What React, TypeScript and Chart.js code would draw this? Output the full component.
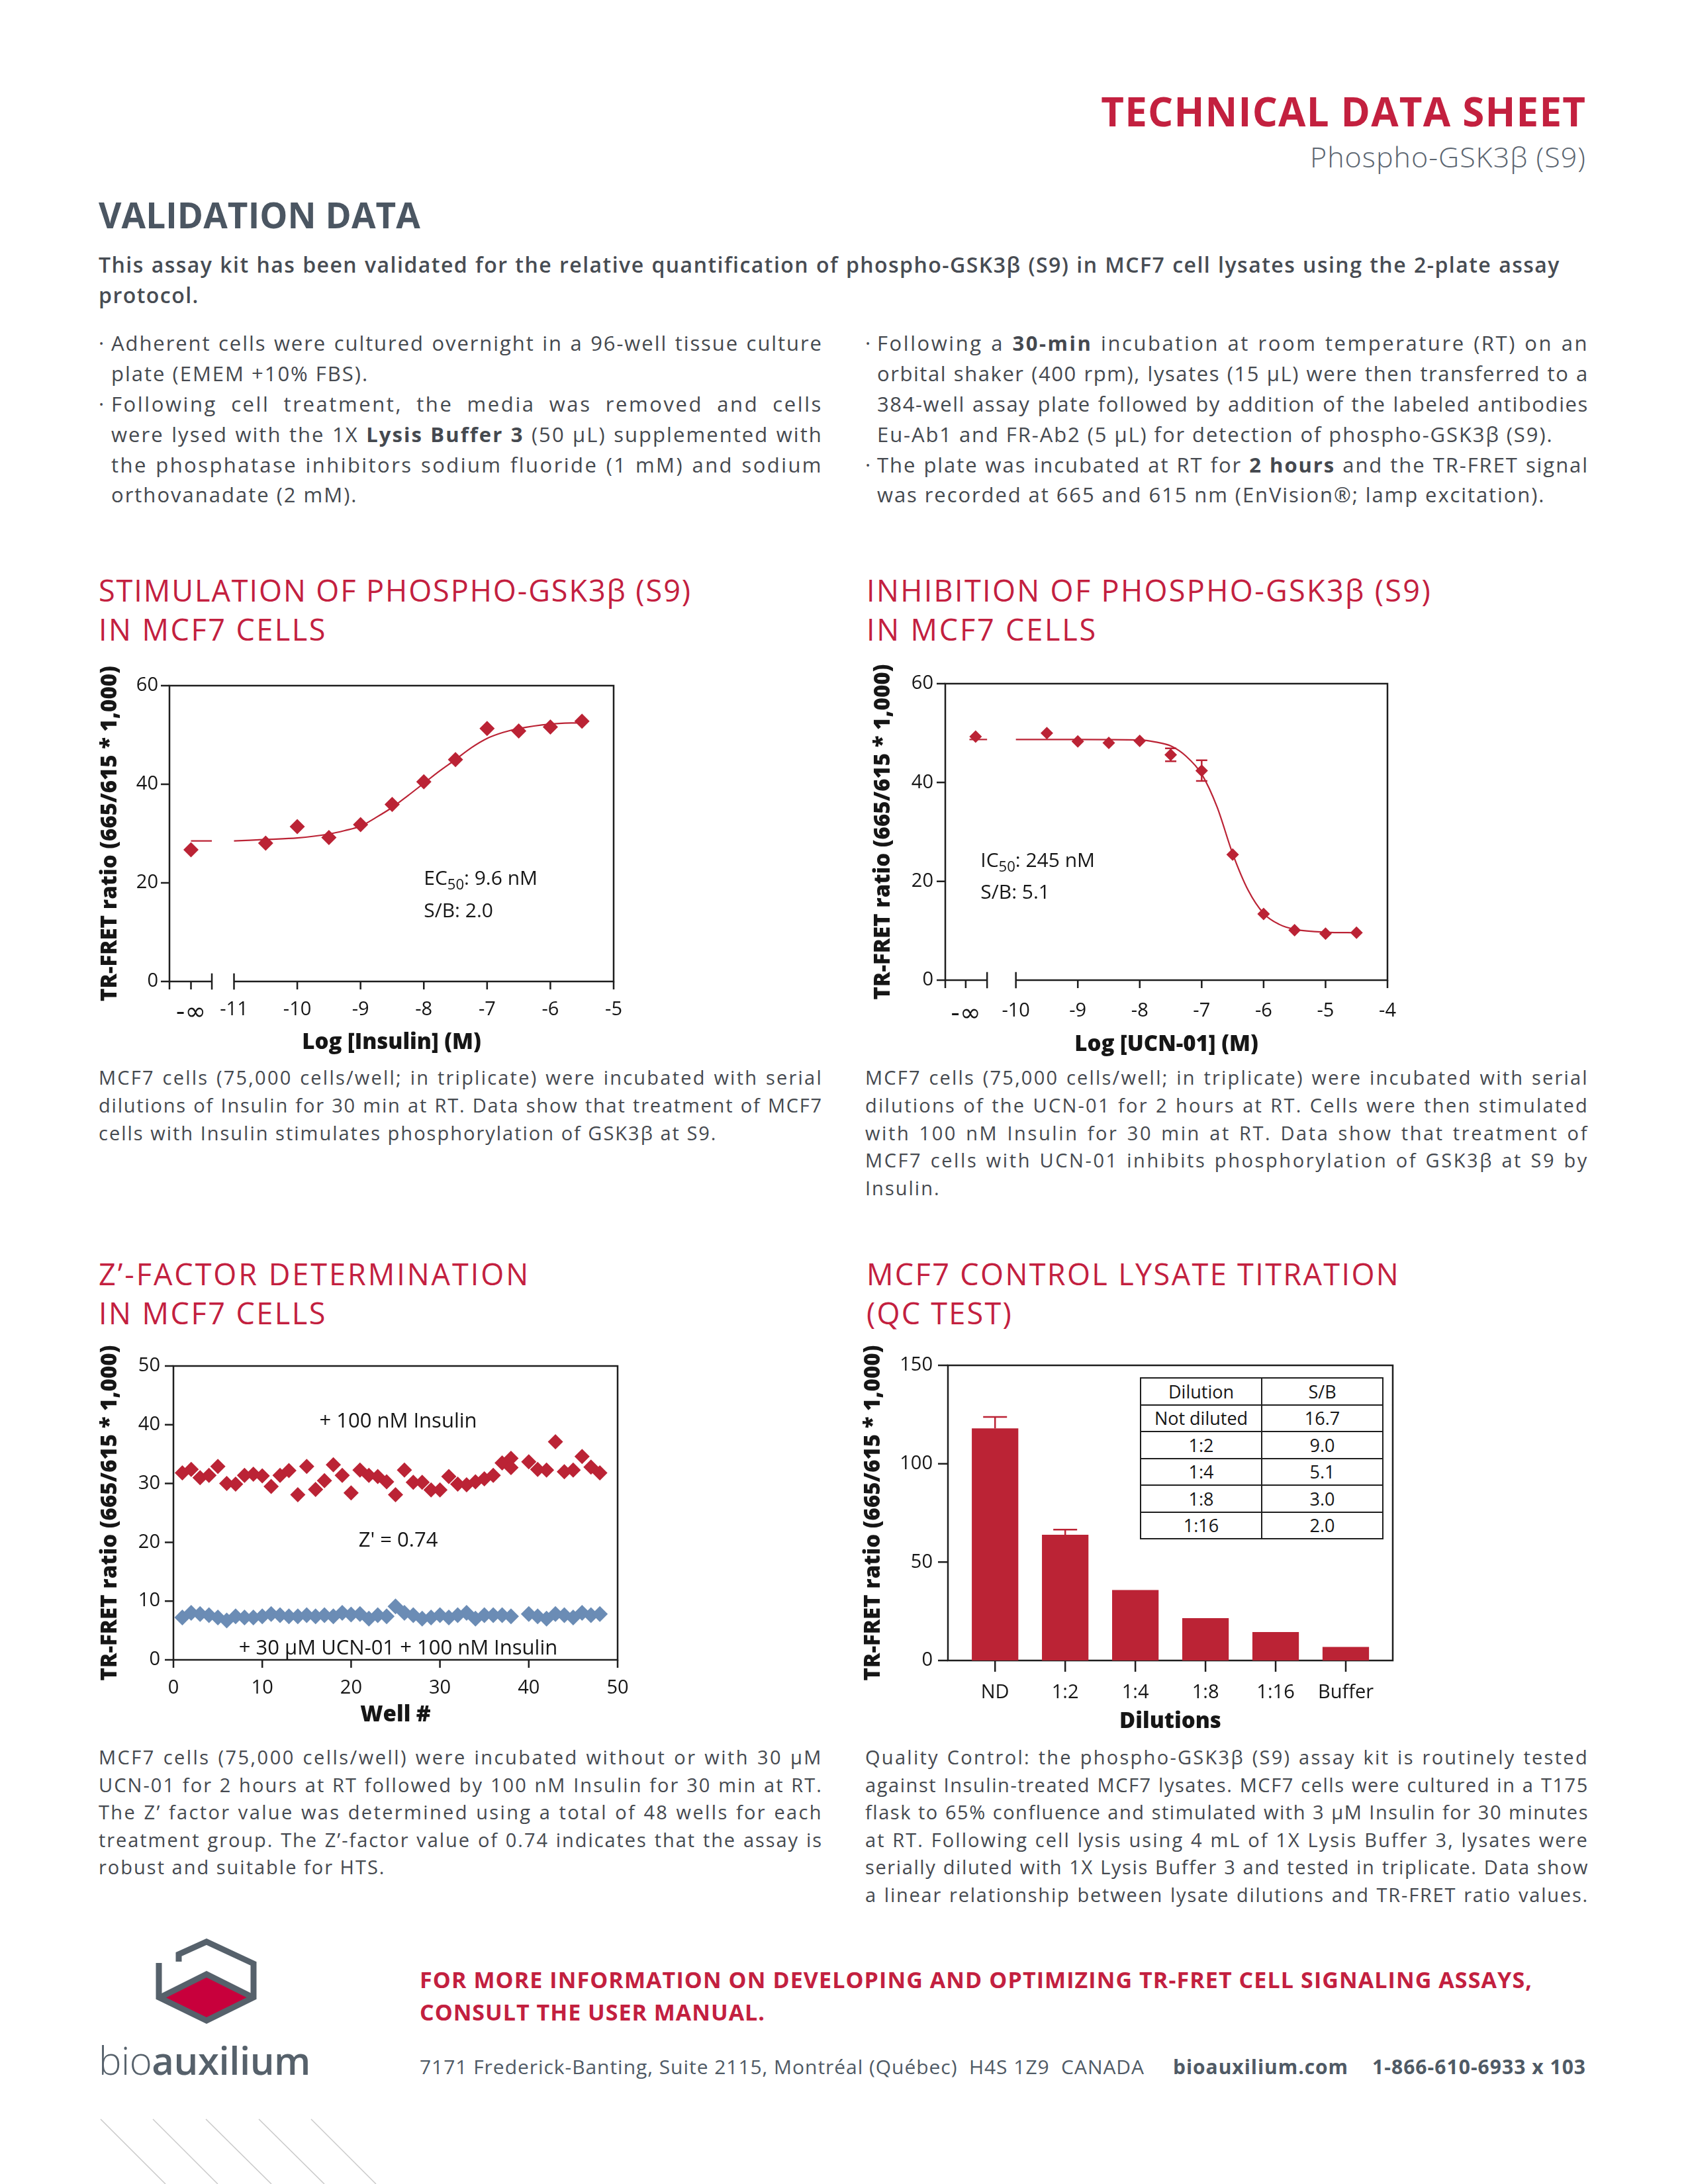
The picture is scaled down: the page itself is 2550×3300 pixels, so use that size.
import React, { useEffect, useRef } from 'react';
import { Chart, registerables } from 'chart.js';

Chart.register(...registerables);

// ======================= DATA =======================
// Chart 1 – stimulation by insulin (log M); "-∞" is drawn at the position of its tick
const stimNegInfPos = -11.68;
const stimDoseLog = [stimNegInfPos, -10.5, -10, -9.5, -9, -8.5, -8, -7.5, -7, -6.5, -6, -5.5];
const stimRatio = [26.7, 28.05, 31.4, 29.2, 31.8, 35.9, 40.5, 45.0, 51.3, 50.8, 51.6, 52.8];
const stimFitStubX = [stimNegInfPos, -11.35];
const stimFitStubY = [28.5, 28.5];
const stimFitX = [-11, -10.5, -10, -9.5, -9.25, -9, -8.75, -8.5, -8.25, -8, -7.75, -7.5, -7.25, -7, -6.75, -6.5, -6, -5.5];
const stimFitY = [28.5, 28.8, 29.1, 29.9, 30.6, 31.5, 33.3, 35.3, 37.7, 40.2, 42.7, 45.0, 47.4, 49.3, 50.5, 51.3, 52.2, 52.5];
const stimTickVals = [stimNegInfPos, -11, -10, -9, -8, -7, -6, -5];
const stimTickLabels = ['-∞', '-11', '-10', '-9', '-8', '-7', '-6', '-5'];
const stimYTicks = [0, 20, 40, 60];

// Chart 2 – inhibition by UCN-01 (log M)
const inhNegInfTick = -10.81;
const inhDoseLog = [-10.65, -9.5, -9, -8.5, -8, -7.5, -7, -6.5, -6, -5.5, -5, -4.5];
const inhRatio = [49.3, 50.0, 48.3, 48.0, 48.4, 45.6, 42.4, 25.4, 13.4, 10.1, 9.4, 9.6];
const inhErr = [0, 0, 0, 0, 0, 1.3, 2.1, 0, 0, 0, 0, 0];
const inhFitStubX = [-10.75, -10.465];
const inhFitStubY = [48.7, 48.7];
const inhFitX = [-10, -9, -8, -7.75, -7.5, -7.25, -7, -6.75, -6.5, -6.25, -6, -5.75, -5.5, -5, -4.5];
const inhFitY = [48.7, 48.7, 48.6, 48.2, 47.4, 45.3, 41.7, 35.0, 25.6, 18.2, 13.5, 11.3, 10.3, 9.7, 9.6];
const inhTickVals = [inhNegInfTick, -10, -9, -8, -7, -6, -5, -4];
const inhTickLabels = ['-∞', '-10', '-9', '-8', '-7', '-6', '-5', '-4'];

// Chart 3 – Z'-factor (well number)
const wellsInsulin = [1, 2, 3, 4, 5, 6, 7, 8, 9, 10, 11, 12, 13, 14, 15, 16, 17, 18, 19, 20, 21, 22, 23, 24, 25, 26, 27, 28, 29, 30, 31, 32, 33, 34, 35, 36, 37, 38, 38, 40, 41, 42, 43, 44, 45, 46, 47, 48];
const ratioInsulin = [31.8, 32.4, 31.0, 31.4, 32.9, 30.0, 29.9, 31.4, 31.6, 31.3, 29.5, 31.4, 32.2, 28.1, 32.9, 29.0, 30.5, 33.2, 31.4, 28.4, 32.3, 31.4, 31.2, 30.3, 28.1, 32.3, 30.2, 30.2, 28.9, 28.9, 31.2, 29.9, 29.8, 30.3, 30.8, 31.4, 33.5, 34.3, 32.7, 33.7, 32.4, 32.3, 37.1, 32.0, 32.3, 34.6, 32.8, 31.8];
const wellsUcn = [1, 2, 3, 4, 5, 6, 7, 8, 9, 10, 11, 12, 13, 14, 15, 16, 17, 18, 19, 20, 21, 22, 23, 24, 25, 26, 27, 28, 29, 30, 31, 32, 33, 34, 35, 36, 37, 38, 40, 41, 42, 43, 44, 45, 46, 47, 48];
const ratioUcn = [7.2, 8.0, 7.8, 7.6, 7.2, 6.7, 7.4, 7.2, 7.2, 7.4, 7.8, 7.6, 7.4, 7.4, 7.6, 7.4, 7.6, 7.4, 8.0, 7.7, 7.8, 7.0, 7.6, 7.4, 9.1, 8.0, 7.6, 7.0, 7.2, 7.6, 7.2, 7.6, 8.0, 7.0, 7.6, 7.6, 7.6, 7.4, 7.8, 7.4, 7.0, 7.8, 7.6, 7.2, 8.0, 7.6, 7.8];
const zTickVals = [0, 10, 20, 30, 40, 50];
const zYTicks = [0, 10, 20, 30, 40, 50];

// Chart 4 – lysate titration
const dilutionLabels = ['ND', '1:2', '1:4', '1:8', '1:16', 'Buffer'];
const dilutionRatio = [118.0, 63.9, 35.8, 21.5, 14.5, 6.9];
const dilutionErr = [5.8, 2.6, 0, 0, 0, 0];
const qcYTicks = [0, 50, 100, 150];
const sbTableDilution = ['Not diluted', '1:2', '1:4', '1:8', '1:16'];
const sbTableValue = ['16.7', '9.0', '5.1', '3.0', '2.0'];

// ======================= STYLE =======================
const FONT = "'Open Sans', 'Noto Sans', 'DejaVu Sans', sans-serif";
const RED = '#C3203F';
const DATA_RED = '#BB2335';
const BLUE = '#6B8CB5';
const SLATE = '#4B5662';
const BODY = '#45494F';
const AXIS = '#1E1E1E';
const INK = '#161616';

type Box = { left: number; top: number; width: number; height: number; pl: number; pt: number; pr: number; pb: number };

function layoutOf(b: Box) {
  return {
    yWidth: b.pl - b.left,
    padTop: b.pt - b.top,
    padRight: b.left + b.width - b.pr,
    xHeight: b.top + b.height - b.pb,
  };
}

const TICK_FONT = { family: FONT, size: 29 };
const INF_FONT = { family: "'DejaVu Sans', sans-serif", size: 38 };
const TITLE_FONT = { family: FONT, size: 33, weight: 800 as any };

function makeX(o: { min: number; max: number; vals: number[]; labels: string[]; title: string; labelPad: number; titlePad: number; height: number }) {
  return {
    type: 'linear',
    position: 'bottom',
    min: o.min,
    max: o.max,
    offset: false,
    grid: { display: false, drawTicks: false },
    border: { display: false },
    afterBuildTicks: (s: any) => {
      s.ticks = o.vals.map((v) => ({ value: v }));
    },
    afterFit: (s: any) => {
      s.height = o.height;
      s.paddingLeft = 0;
      s.paddingRight = 0;
      s.paddingTop = 0;
      s.paddingBottom = 0;
    },
    ticks: {
      autoSkip: false,
      maxRotation: 0,
      minRotation: 0,
      padding: o.labelPad,
      font: (c: any) => (o.labels[c.index] === '-∞' ? INF_FONT : TICK_FONT),
      color: INK,
      callback: (_v: any, i: number) => o.labels[i],
    },
    title: { display: true, text: o.title, font: TITLE_FONT, color: INK, padding: { top: 0, bottom: o.titlePad } },
  };
}

function makeY(o: { min: number; max: number; vals: number[]; labelPad: number; titlePad: number; width: number }) {
  return {
    type: 'linear',
    position: 'left',
    min: o.min,
    max: o.max,
    grid: { display: false, drawTicks: false },
    border: { display: false },
    afterBuildTicks: (s: any) => {
      s.ticks = o.vals.map((v) => ({ value: v }));
    },
    afterFit: (s: any) => {
      s.width = o.width;
      s.paddingLeft = 0;
      s.paddingRight = 0;
      s.paddingTop = 0;
      s.paddingBottom = 0;
    },
    ticks: { padding: o.labelPad, font: TICK_FONT, color: INK, callback: (v: any) => String(v) },
    title: {
      display: true,
      text: 'TR-FRET ratio (665/615 * 1,000)',
      font: TITLE_FONT,
      color: INK,
      padding: { top: o.titlePad, bottom: 0 },
    },
  };
}

function framePlugin(o: { xTicks: number[]; yTicks: number[]; xLen: number; yLen: number; breaks?: [number, number] }) {
  return {
    id: 'frame',
    beforeDatasetsDraw(chart: any) {
      const { ctx, chartArea: a, scales } = chart;
      const x = scales.x;
      const y = scales.y;
      ctx.save();
      ctx.strokeStyle = AXIS;
      ctx.lineWidth = 2.5;
      ctx.lineCap = 'square';
      ctx.beginPath();
      ctx.moveTo(a.left, a.bottom);
      ctx.lineTo(a.left, a.top);
      ctx.lineTo(a.right, a.top);
      ctx.lineTo(a.right, a.bottom);
      if (o.breaks) {
        const b1 = x.getPixelForValue(o.breaks[0]);
        const b2 = x.getPixelForValue(o.breaks[1]);
        ctx.moveTo(a.left, a.bottom);
        ctx.lineTo(b1, a.bottom);
        ctx.moveTo(b2, a.bottom);
        ctx.lineTo(a.right, a.bottom);
        ctx.moveTo(b1, a.bottom - 11);
        ctx.lineTo(b1, a.bottom + 11);
        ctx.moveTo(b2, a.bottom - 11);
        ctx.lineTo(b2, a.bottom + 11);
      } else {
        ctx.moveTo(a.left, a.bottom);
        ctx.lineTo(a.right, a.bottom);
      }
      ctx.stroke();
      ctx.lineCap = 'butt';
      ctx.beginPath();
      for (const v of o.xTicks) {
        const px = x.getPixelForValue(v);
        ctx.moveTo(px, a.bottom);
        ctx.lineTo(px, a.bottom + o.xLen);
      }
      for (const v of o.yTicks) {
        const py = y.getPixelForValue(v);
        ctx.moveTo(a.left - o.yLen, py);
        ctx.lineTo(a.left, py);
      }
      ctx.stroke();
      ctx.restore();
    },
  };
}

type Part = { t: string; sub?: boolean };
type Note = { x: number; y: number; align: 'left' | 'center'; parts: Part[] };

function notesPlugin(notes: Note[], size: number) {
  return {
    id: 'notes',
    afterDatasetsDraw(chart: any) {
      const { ctx, scales } = chart;
      ctx.save();
      ctx.fillStyle = INK;
      ctx.textBaseline = 'alphabetic';
      ctx.textAlign = 'left';
      for (const n of notes) {
        const px = scales.x.getPixelForValue(n.x);
        const py = scales.y.getPixelForValue(n.y);
        const fonts = n.parts.map((p) => (p.sub ? `${Math.round(size * 0.72)}px ${FONT}` : `${size}px ${FONT}`));
        const widths = n.parts.map((p, i) => {
          ctx.font = fonts[i];
          return ctx.measureText(p.t).width;
        });
        const total = widths.reduce((s, w) => s + w, 0);
        let cx = n.align === 'center' ? px - total / 2 : px;
        n.parts.forEach((p, i) => {
          ctx.font = fonts[i];
          ctx.fillText(p.t, cx, p.sub ? py + size * 0.24 : py);
          cx += widths[i];
        });
      }
      ctx.restore();
    },
  };
}

function errorPlugin(dsIndex: number, errs: number[], capHalf: number, both: boolean) {
  return {
    id: 'errs',
    afterDatasetsDraw(chart: any) {
      const { ctx, scales } = chart;
      const meta = chart.getDatasetMeta(dsIndex);
      const ds = chart.data.datasets[dsIndex];
      ctx.save();
      ctx.strokeStyle = DATA_RED;
      ctx.lineWidth = 2.5;
      meta.data.forEach((el: any, i: number) => {
        const e = errs[i];
        if (!e) return;
        const raw = ds.data[i];
        const v = typeof raw === 'number' ? raw : raw.y;
        const hi = scales.y.getPixelForValue(v + e);
        const lo = scales.y.getPixelForValue(both ? v - e : v);
        ctx.beginPath();
        ctx.moveTo(el.x, lo);
        ctx.lineTo(el.x, hi);
        ctx.moveTo(el.x - capHalf, hi);
        ctx.lineTo(el.x + capHalf, hi);
        if (both) {
          ctx.moveTo(el.x - capHalf, lo);
          ctx.lineTo(el.x + capHalf, lo);
        }
        ctx.stroke();
      });
      ctx.restore();
    },
  };
}

const xy = (xs: number[], ys: number[]) => xs.map((x, i) => ({ x, y: ys[i] }));

function baseOptions(b: Box, scales: any) {
  const L = layoutOf(b);
  return {
    responsive: false,
    animation: false,
    devicePixelRatio: 1,
    events: [],
    layout: { autoPadding: false, padding: { left: 0, top: L.padTop, right: L.padRight, bottom: 0 } },
    plugins: { legend: { display: false }, tooltip: { enabled: false } },
    scales,
  };
}

const fitLine = (data: any[]) => ({
  data,
  showLine: true,
  borderColor: DATA_RED,
  borderWidth: 2.2,
  pointRadius: 0,
  cubicInterpolationMode: 'monotone',
  fill: false,
});

const marks = (data: any[], color: string, r: number) => ({
  data,
  showLine: false,
  pointStyle: 'rectRot',
  pointRadius: r,
  pointBackgroundColor: color,
  backgroundColor: color,
  borderColor: color,
  pointBorderWidth: 0,
});

// ---------- boxes (pixel placement) ----------
const box1: Box = { left: 140, top: 990, width: 820, height: 613, pl: 256, pt: 1036, pr: 927, pb: 1483 };
const box2: Box = { left: 1300, top: 990, width: 830, height: 611, pl: 1428, pt: 1033, pr: 2096, pb: 1481 };
const box3: Box = { left: 140, top: 2030, width: 820, height: 598, pl: 262, pt: 2064, pr: 933, pb: 2508 };
const box4: Box = { left: 1300, top: 2030, width: 830, height: 599, pl: 1432, pt: 2063, pr: 2104, pb: 2509 };

const stimMin = -12.02;
const stimMax = -5;
const inhMin = -11.14;
const inhMax = -4;

function config1() {
  const L = layoutOf(box1);
  return {
    type: 'scatter',
    data: {
      datasets: [
        fitLine(xy(stimFitStubX, stimFitStubY)),
        fitLine(xy(stimFitX, stimFitY)),
        marks(xy(stimDoseLog, stimRatio), DATA_RED, 11.5),
      ],
    },
    options: baseOptions(box1, {
      x: makeX({ min: stimMin, max: stimMax, vals: stimTickVals, labels: stimTickLabels, title: 'Log [Insulin] (M)', labelPad: 25, titlePad: 8, height: L.xHeight }),
      y: makeY({ min: 0, max: 60, vals: stimYTicks, labelPad: 17, titlePad: 7, width: L.yWidth }),
    }),
    plugins: [
      framePlugin({ xTicks: [stimMin, stimNegInfPos, -10, -9, -8, -7, -6, -5], yTicks: stimYTicks, xLen: 12, yLen: 13, breaks: [-11.35, -11] }),
      notesPlugin(
        [
          { x: -8.0, y: 19.6, align: 'left', parts: [{ t: 'EC' }, { t: '50', sub: true }, { t: ': 9.6 nM' }] },
          { x: -8.0, y: 13.0, align: 'left', parts: [{ t: 'S/B: 2.0' }] },
        ],
        30
      ),
    ],
  };
}

function config2() {
  const L = layoutOf(box2);
  return {
    type: 'scatter',
    data: {
      datasets: [
        fitLine(xy(inhFitStubX, inhFitStubY)),
        fitLine(xy(inhFitX, inhFitY)),
        marks(xy(inhDoseLog, inhRatio), DATA_RED, 9.5),
      ],
    },
    options: baseOptions(box2, {
      x: makeX({ min: inhMin, max: inhMax, vals: inhTickVals, labels: inhTickLabels, title: 'Log [UCN-01] (M)', labelPad: 29, titlePad: 3, height: L.xHeight }),
      y: makeY({ min: 0, max: 60, vals: stimYTicks, labelPad: 18, titlePad: 15, width: L.yWidth }),
    }),
    plugins: [
      framePlugin({ xTicks: [inhMin, inhNegInfTick, -9, -8, -7, -6, -5, -4], yTicks: stimYTicks, xLen: 12, yLen: 13, breaks: [-10.465, -10] }),
      errorPlugin(2, inhErr, 8.5, true),
      notesPlugin(
        [
          { x: -10.57, y: 22.95, align: 'left', parts: [{ t: 'IC' }, { t: '50', sub: true }, { t: ': 245 nM' }] },
          { x: -10.57, y: 16.5, align: 'left', parts: [{ t: 'S/B: 5.1' }] },
        ],
        30
      ),
    ],
  };
}

function config3() {
  const L = layoutOf(box3);
  return {
    type: 'scatter',
    data: {
      datasets: [marks(xy(wellsInsulin, ratioInsulin), DATA_RED, 11.5), marks(xy(wellsUcn, ratioUcn), BLUE, 12)],
    },
    options: baseOptions(box3, {
      x: makeX({ min: 0, max: 50, vals: zTickVals, labels: zTickVals.map(String), title: 'Well #', labelPad: 25, titlePad: 17, height: L.xHeight }),
      y: makeY({ min: 0, max: 50, vals: zYTicks, labelPad: 20, titlePad: 7, width: L.yWidth }),
    }),
    plugins: [
      framePlugin({ xTicks: zTickVals, yTicks: zYTicks, xLen: 12, yLen: 13 }),
      notesPlugin(
        [
          { x: 25.3, y: 39.5, align: 'center', parts: [{ t: '+ 100 nM Insulin' }] },
          { x: 25.3, y: 19.3, align: 'center', parts: [{ t: "Z' = 0.74" }] },
          { x: 25.3, y: 0.9, align: 'center', parts: [{ t: '+ 30 µM UCN-01 + 100 nM Insulin' }] },
        ],
        31
      ),
    ],
  };
}

function config4() {
  const L = layoutOf(box4);
  const idx = dilutionLabels.map((_, i) => i);
  return {
    type: 'bar',
    data: {
      datasets: [
        {
          data: xy(idx, dilutionRatio),
          backgroundColor: DATA_RED,
          borderWidth: 0,
          barPercentage: 0.663,
          categoryPercentage: 1,
        },
      ],
    },
    options: baseOptions(box4, {
      x: makeX({ min: -0.672, max: 5.67, vals: idx, labels: dilutionLabels, title: 'Dilutions', labelPad: 31, titlePad: 8, height: L.xHeight }),
      y: makeY({ min: 0, max: 150, vals: qcYTicks, labelPad: 23, titlePad: 0, width: L.yWidth }),
    }),
    plugins: [framePlugin({ xTicks: idx, yTicks: qcYTicks, xLen: 17, yLen: 15 }), errorPlugin(0, dilutionErr, 18, false)],
  };
}

function ChartBox({ b, build }: { b: Box; build: () => any }) {
  const ref = useRef<HTMLCanvasElement>(null);
  useEffect(() => {
    const c = new Chart(ref.current as HTMLCanvasElement, build());
    return () => c.destroy();
  }, []);
  return (
    <canvas
      ref={ref}
      width={b.width}
      height={b.height}
      style={{ position: 'absolute', left: b.left, top: b.top, width: b.width, height: b.height }}
    />
  );
}

// ======================= TEXT =======================
type TL = { t: string; j?: boolean; dot?: boolean };

const introLines: TL[] = [
  { t: 'This assay kit has been validated for the relative quantification of phospho-GSK3β (S9) in MCF7 cell lysates using the 2-plate assay', j: true },
  { t: 'protocol.' },
];
const bulletsLeft: TL[] = [
  { t: 'Adherent cells were cultured overnight in a 96-well tissue culture', j: true, dot: true },
  { t: 'plate (EMEM +10% FBS).' },
  { t: 'Following cell treatment, the media was removed and cells', j: true, dot: true },
  { t: 'were lysed with the 1X **Lysis Buffer 3** (50 µL) supplemented with', j: true },
  { t: 'the phosphatase inhibitors sodium fluoride (1 mM) and sodium', j: true },
  { t: 'orthovanadate (2 mM).' },
];
const bulletsRight: TL[] = [
  { t: 'Following a **30-min** incubation at room temperature (RT) on an', j: true, dot: true },
  { t: 'orbital shaker (400 rpm), lysates (15 µL) were then transferred to a', j: true },
  { t: '384-well assay plate followed by addition of the labeled antibodies', j: true },
  { t: 'Eu-Ab1 and FR-Ab2 (5 µL) for detection of phospho-GSK3β (S9).' },
  { t: 'The plate was incubated at RT for **2 hours** and the TR-FRET signal', j: true, dot: true },
  { t: 'was recorded at 665 and 615 nm  (EnVision®; lamp excitation).' },
];
const caption1: TL[] = [
  { t: 'MCF7 cells (75,000 cells/well; in triplicate) were incubated with serial', j: true },
  { t: 'dilutions of Insulin for 30 min at RT.  Data show that treatment of MCF7', j: true },
  { t: 'cells with Insulin stimulates phosphorylation of GSK3β at S9.' },
];
const caption2: TL[] = [
  { t: 'MCF7 cells (75,000 cells/well; in triplicate) were incubated with serial', j: true },
  { t: 'dilutions of the UCN-01 for 2 hours at RT. Cells were then stimulated', j: true },
  { t: 'with 100 nM Insulin for 30 min at RT.  Data show that treatment of', j: true },
  { t: 'MCF7 cells with UCN-01 inhibits phosphorylation of GSK3β at S9 by', j: true },
  { t: 'Insulin.' },
];
const caption3: TL[] = [
  { t: 'MCF7 cells (75,000 cells/well) were incubated without or with 30 µM', j: true },
  { t: 'UCN-01 for 2 hours at RT followed by 100 nM Insulin for 30 min at RT.', j: true },
  { t: 'The Z’ factor value was determined using a total of 48 wells for each', j: true },
  { t: 'treatment group. The Z’-factor value of 0.74 indicates that the assay is', j: true },
  { t: 'robust and suitable for HTS.' },
];
const caption4: TL[] = [
  { t: 'Quality Control: the phospho-GSK3β (S9) assay kit is routinely tested', j: true },
  { t: 'against Insulin-treated MCF7 lysates. MCF7 cells were cultured in a T175', j: true },
  { t: 'flask to 65% confluence and stimulated with 3 µM Insulin for 30 minutes', j: true },
  { t: 'at RT. Following cell lysis using 4 mL of 1X Lysis Buffer 3, lysates were', j: true },
  { t: 'serially diluted with 1X Lysis Buffer 3 and tested in triplicate. Data show', j: true },
  { t: 'a linear relationship between lysate dilutions and TR-FRET ratio values.', j: true },
];

let measureCtx: CanvasRenderingContext2D | null = null;
function textW(s: string, fs: number, weight: number) {
  if (!measureCtx) measureCtx = document.createElement('canvas').getContext('2d');
  if (!measureCtx) return s.length * fs * 0.5;
  measureCtx.font = `${weight} ${fs}px ${FONT}`;
  return measureCtx.measureText(s).width;
}

type Word = { s: string; b: boolean };
function parseWords(text: string): Word[] {
  let bold = false;
  return text
    .split(/\s+/)
    .filter(Boolean)
    .map((w) => {
      let s = w;
      if (s.startsWith('**')) {
        s = s.slice(2);
        bold = true;
      }
      const b = bold;
      if (s.endsWith('**')) {
        s = s.slice(0, -2);
        bold = false;
      }
      return { s, b };
    });
}

function natural(ws: Word[], fs: number, weight: number) {
  let w = 0;
  let n = 0;
  ws.forEach((x) => {
    w += textW(x.s, fs, x.b ? 700 : weight);
    n += x.s.length;
  });
  w += (ws.length - 1) * textW(' ', fs, weight);
  n += ws.length - 1;
  return { w, n };
}

const ASC = 0.888;

function Line(p: { x: number; base: number; fs: number; w: number; ws: Word[]; j?: boolean; ls: number; weight?: number; color?: string }) {
  return (
    <div
      style={{
        position: 'absolute',
        left: p.x,
        top: p.base - ASC * p.fs,
        width: p.w,
        height: p.fs,
        display: 'flex',
        justifyContent: p.j ? 'space-between' : 'flex-start',
        columnGap: p.j ? '0.12em' : `calc(0.26em + ${p.ls}px)`,
        fontSize: p.fs,
        lineHeight: `${p.fs}px`,
        fontWeight: p.weight ?? 400,
        color: p.color ?? BODY,
        whiteSpace: 'nowrap',
        letterSpacing: p.ls,
      }}
    >
      {p.ws.map((x, i) => (
        <span key={i} style={{ fontWeight: x.b ? 700 : undefined, whiteSpace: 'pre' }}>
          {x.s}
        </span>
      ))}
    </div>
  );
}

function Para(p: { lines: TL[]; x: number; base: number; step: number; fs: number; w: number; weight?: number; color?: string; dotX?: number }) {
  const weight = p.weight ?? 400;
  const info = p.lines.map((l) => {
    const ws = parseWords(l.t);
    const m = natural(ws, p.fs, weight);
    const ls = Math.max(-0.4, Math.min(2.6, ((p.w - m.w) / m.n) * 0.9));
    return { ws, ls };
  });
  const js = info.filter((_, i) => p.lines[i].j).map((d) => d.ls);
  const avg = js.length ? js.reduce((a, b) => a + b, 0) / js.length : 0;
  return (
    <>
      {p.lines.map((l, i) => (
        <React.Fragment key={i}>
          {l.dot && p.dotX !== undefined ? (
            <div
              style={{
                position: 'absolute',
                left: p.dotX,
                top: p.base + i * p.step - ASC * p.fs,
                fontSize: p.fs,
                lineHeight: `${p.fs}px`,
                color: p.color ?? BODY,
              }}
            >
              ·
            </div>
          ) : null}
          <Line
            x={p.x}
            base={p.base + i * p.step}
            fs={p.fs}
            w={p.w}
            ws={info[i].ws}
            j={l.j}
            ls={l.j ? info[i].ls : Math.min(avg, 2)}
            weight={weight}
            color={p.color}
          />
        </React.Fragment>
      ))}
    </>
  );
}

// Single line text fitted (by letter spacing) to a measured width
function Fit(p: { x?: number; right?: number; base: number; fs: number; target: number; weight?: number; color?: string; text: string }) {
  const weight = p.weight ?? 400;
  const nat = textW(p.text, p.fs, weight);
  const ls = (p.target - nat) / p.text.length;
  const style: React.CSSProperties = {
    position: 'absolute',
    top: p.base - ASC * p.fs,
    fontSize: p.fs,
    lineHeight: `${p.fs}px`,
    fontWeight: weight,
    color: p.color ?? BODY,
    whiteSpace: 'pre',
    letterSpacing: ls,
  };
  if (p.right !== undefined) style.right = 2550 - p.right - ls;
  else style.left = p.x;
  return <div style={style}>{p.text}</div>;
}

function SectionTitle({ x, base, lines, widths }: { x: number; base: number; lines: string[]; widths: number[] }) {
  return (
    <>
      {lines.map((l, i) => (
        <Fit key={i} x={x} base={base + i * 59} fs={45} color={RED} text={l} target={widths[i]} />
      ))}
    </>
  );
}

function SBTable() {
  const rows = [['Dilution', 'S/B'], ...sbTableDilution.map((d, i) => [d, sbTableValue[i]])];
  const cell: React.CSSProperties = {
    border: `2.5px solid ${AXIS}`,
    textAlign: 'center',
    padding: 0,
    height: 38.5,
    fontSize: 27,
    color: INK,
    lineHeight: '27px',
  };
  return (
    <table
      style={{
        position: 'absolute',
        left: 1722,
        top: 2081,
        width: 366,
        borderCollapse: 'collapse',
        tableLayout: 'fixed',
        fontFamily: FONT,
        background: '#fff',
      }}
    >
      <colgroup>
        <col style={{ width: 183 }} />
        <col style={{ width: 183 }} />
      </colgroup>
      <tbody>
        {rows.map((r, i) => (
          <tr key={i}>
            <td style={cell}>{r[0]}</td>
            <td style={cell}>{r[1]}</td>
          </tr>
        ))}
      </tbody>
    </table>
  );
}

function Logo() {
  const ox = 228;
  const oy = 2922;
  const P = (pts: number[][]) => pts.map(([x, y], i) => `${i ? 'L' : 'M'}${x - ox} ${y - oy}`).join(' ');
  return (
    <svg width={170} height={145} style={{ position: 'absolute', left: ox, top: oy }}>
      <path d={P([[312, 2985], [378, 3018], [312, 3050], [246, 3018]]) + ' Z'} fill="#C8003C" />
      <path
        d={P([[270, 2964], [270, 2953], [312, 2934], [383, 2967], [383, 3018], [312, 3053], [240, 3018], [240, 2966]])}
        fill="none"
        stroke="#56616B"
        strokeWidth={9}
        strokeLinejoin="miter"
      />
      <path d={P([[242, 3018], [312, 2983], [382, 3018]])} fill="none" stroke="#56616B" strokeWidth={9} />
    </svg>
  );
}

function Hatch() {
  const tops = [152, 231, 311, 391, 470];
  const bots = [250, 329, 410, 490, 568];
  return (
    <svg width={460} height={100} style={{ position: 'absolute', left: 140, top: 3200 }}>
      {tops.map((t, i) => (
        <line key={i} x1={t - 140} y1={2} x2={bots[i] - 140} y2={100} stroke="#C9C9C9" strokeWidth={1.5} />
      ))}
    </svg>
  );
}

function BrandName() {
  const fs = 58;
  const nat = textW('bio', fs, 300) + textW('auxilium', fs, 600);
  const ls = (320 - nat) / 11;
  return (
    <div
      style={{
        position: 'absolute',
        left: 149,
        top: 3136 - ASC * fs,
        fontSize: fs,
        lineHeight: `${fs}px`,
        color: '#56616B',
        letterSpacing: ls,
        whiteSpace: 'pre',
      }}
    >
      <span style={{ fontWeight: 300 }}>bio</span>
      <span style={{ fontWeight: 600 }}>auxilium</span>
    </div>
  );
}

export default function App() {
  return (
    <div
      style={{
        position: 'relative',
        width: 2550,
        height: 3300,
        background: '#fff',
        overflow: 'hidden',
        fontFamily: FONT,
      }}
    >
      <style>{`body{margin:0;background:#fff}`}</style>

      <Fit right={2395} base={191} fs={60} weight={700} color={RED} text="TECHNICAL DATA SHEET" target={733} />
      <Fit right={2395} base={253} fs={43} weight={300} color="#5B6570" text="Phospho-GSK3β (S9)" target={417} />
      <Fit x={149} base={345} fs={53} weight={700} color={SLATE} text="VALIDATION DATA" target={486} />

      <Para lines={introLines} x={149} base={412} step={46} fs={32} w={2208} weight={600} color="#474C53" />
      <Para lines={bulletsLeft} x={168} dotX={149} base={531} step={45.8} fs={31} w={1075} />
      <Para lines={bulletsRight} x={1325} dotX={1307} base={531} step={45.8} fs={31} w={1075} />

      <SectionTitle x={149} base={909} lines={['STIMULATION OF PHOSPHO-GSK3β (S9)', 'IN MCF7 CELLS']} widths={[896, 345]} />
      <SectionTitle x={1309} base={909} lines={['INHIBITION OF PHOSPHO-GSK3β (S9)', 'IN MCF7 CELLS']} widths={[854, 349]} />
      <SectionTitle x={149} base={1942} lines={['Z’-FACTOR DETERMINATION', 'IN MCF7 CELLS']} widths={[652, 345]} />
      <SectionTitle x={1309} base={1942} lines={['MCF7 CONTROL LYSATE TITRATION', '(QC TEST)']} widths={[806, 221]} />

      <ChartBox b={box1} build={config1} />
      <ChartBox b={box2} build={config2} />
      <ChartBox b={box3} build={config3} />
      <ChartBox b={box4} build={config4} />
      <SBTable />

      <Para lines={caption1} x={149} base={1639} step={41.7} fs={29} w={1094} />
      <Para lines={caption2} x={1307} base={1639} step={41.7} fs={29} w={1093} />
      <Para lines={caption3} x={149} base={2666} step={41.5} fs={29} w={1094} />
      <Para lines={caption4} x={1307} base={2666} step={41.5} fs={29} w={1093} />

      <Logo />
      <BrandName />

      <Fit x={634} base={3004} fs={34} weight={700} color={RED} text="FOR MORE INFORMATION ON DEVELOPING AND OPTIMIZING TR-FRET CELL SIGNALING ASSAYS," target={1681} />
      <Fit x={634} base={3053} fs={34} weight={700} color={RED} text="CONSULT THE USER MANUAL." target={522} />
      <Fit x={634} base={3135} fs={30} color="#4F5A65" text={'7171 Frederick-Banting, Suite 2115, Montréal (Québec)  H4S 1Z9  CANADA'} target={1095} />
      <Fit x={1772} base={3135} fs={30} weight={700} color="#4F5A65" text="bioauxilium.com" target={265} />
      <Fit right={2395} base={3135} fs={30} weight={700} color="#4F5A65" text="1-866-610-6933 x 103" target={323} />
      <Hatch />
    </div>
  );
}
